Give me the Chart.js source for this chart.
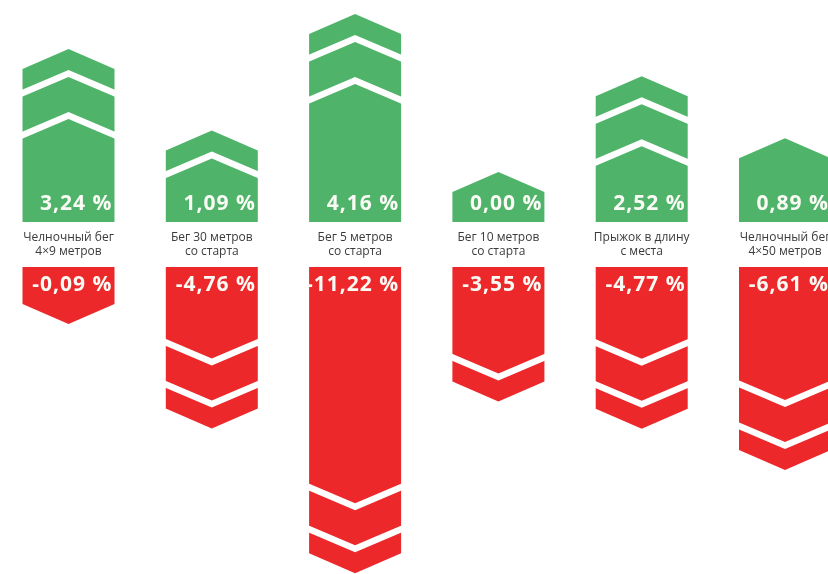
<!DOCTYPE html>
<html lang="ru">
<head>
<meta charset="utf-8">
<title>Прирост и снижение результатов</title>
<script src="https://cdn.jsdelivr.net/npm/chart.js@4/dist/chart.umd.min.js"></script>
<style>
  html, body { margin: 0; padding: 0; background: #fff; }
  #wrap { width: 828px; height: 574px; position: relative; }
</style>
</head>
<body>
<div id="wrap"><canvas id="chart"></canvas></div>
<script>
// ==== Data ====
const categories = [
  ["Челночный бег", "4×9 метров"],
  ["Бег 30 метров", "со старта"],
  ["Бег 5 метров", "со старта"],
  ["Бег 10 метров", "со старта"],
  ["Прыжок в длину", "с места"],
  ["Челночный бег", "4×50 метров"]
];
const gains = [3.24, 1.09, 4.16, 0.00, 2.52, 0.89];
const losses = [-0.09, -4.76, -11.22, -3.55, -4.77, -6.61];

// ==== Layout ====
const W = 828, H = 574;
const COL_FIRST = 68.5, COL_STEP = 143.3;   // centre of first column, distance between columns
const UP_BASE = 222, UP_PX = 38;            // zero line of the green arrows, px per unit
const DOWN_BASE = 267, DOWN_PX = 22.4;      // zero line of the red arrows, px per unit
const ARROW_W = 92;
const RISE = 20;                            // height of the chevron point
const PAD_UP = 30, PAD_DOWN = 35;           // room for the value text inside the arrow
const TIP_BAND = 21, GAP = 7, BAND = 35;    // chevron stripes
const GREEN = "#4fb46a", RED = "#ec282b";

const fmt = (v) => v.toFixed(2).replace(".", ",") + " %";

// ==== Arrow shape ====
function drawArrow(ctx, x, y, base, w, up, color) {
  const s = up ? -1 : 1;
  const L = x - w / 2, R = x + w / 2;
  const shoulder = y + s * (up ? PAD_UP : PAD_DOWN);
  const tip = shoulder + s * RISE;

  ctx.fillStyle = color;
  ctx.beginPath();
  ctx.moveTo(L, base);
  ctx.lineTo(L, shoulder);
  ctx.lineTo(x, tip);
  ctx.lineTo(R, shoulder);
  ctx.lineTo(R, base);
  ctx.closePath();
  ctx.fill();

  // white chevrons near the tip, more of them on longer arrows
  const len = Math.abs(tip - base);
  const n = len >= 140 ? 2 : len >= 88 ? 1 : 0;
  ctx.fillStyle = "#fff";
  for (let k = 0; k < n; k++) {
    const a = tip - s * (TIP_BAND + k * (GAP + BAND));
    const b = a - s * GAP;
    ctx.beginPath();
    ctx.moveTo(L - 1, a - s * RISE);
    ctx.lineTo(x, a);
    ctx.lineTo(R + 1, a - s * RISE);
    ctx.lineTo(R + 1, b - s * RISE);
    ctx.lineTo(x, b);
    ctx.lineTo(L - 1, b - s * RISE);
    ctx.closePath();
    ctx.fill();
  }
}

const arrowPlugin = {
  id: "arrows",
  beforeDatasetDraw(chart, args) {
    const ds = chart.data.datasets[args.index];
    const ctx = chart.ctx;
    const up = ds.direction === "up";
    ctx.save();
    args.meta.data.forEach((bar, i) => {
      const { x, y, base, width } = bar.getProps(["x", "y", "base", "width"], true);
      drawArrow(ctx, x, y, base, width, up, ds.backgroundColor);
      ctx.fillStyle = "#fbfbf6";
      ctx.font = "bold 21px 'Open Sans', sans-serif";
      ctx.letterSpacing = "1px";
      ctx.textAlign = "right";
      ctx.textBaseline = "alphabetic";
      ctx.fillText(fmt(ds.data[i].y), x + width / 2 - 2, up ? base - 12 : base + 24);
    });
    ctx.restore();
    return false;
  },
  afterDatasetsDraw(chart) {
    const ctx = chart.ctx;
    const xs = chart.scales.x;
    const mid = (UP_BASE + DOWN_BASE) / 2;
    ctx.save();
    ctx.fillStyle = "#3a3a3a";
    ctx.font = "12px 'Open Sans', sans-serif";
    ctx.textAlign = "center";
    ctx.textBaseline = "middle";
    categories.forEach((lines, i) => {
      const x = xs.getPixelForValue(i);
      ctx.fillText(lines[0], x, mid - 6.5);
      ctx.fillText(lines[1], x, mid + 7);
    });
    ctx.restore();
  }
};

// ==== Chart ====
new Chart(document.getElementById("chart"), {
  type: "bar",
  data: {
    datasets: [
      {
        label: "Прирост",
        direction: "up",
        data: gains.map((v, i) => ({ x: i, y: v })),
        backgroundColor: GREEN,
        yAxisID: "yUp",
        barThickness: ARROW_W,
        grouped: false
      },
      {
        label: "Снижение",
        direction: "down",
        data: losses.map((v, i) => ({ x: i, y: v })),
        backgroundColor: RED,
        yAxisID: "yDown",
        barThickness: ARROW_W,
        grouped: false
      }
    ]
  },
  options: {
    responsive: true,
    maintainAspectRatio: false,
    animation: false,
    layout: { padding: 0 },
    plugins: {
      legend: { display: false },
      tooltip: { enabled: false }
    },
    scales: {
      x: {
        type: "linear",
        display: false,
        offset: false,
        min: -COL_FIRST / COL_STEP,
        max: (W - COL_FIRST) / COL_STEP
      },
      yUp: {
        type: "linear",
        display: false,
        min: -(H - UP_BASE) / UP_PX,
        max: UP_BASE / UP_PX
      },
      yDown: {
        type: "linear",
        display: false,
        min: -(H - DOWN_BASE) / DOWN_PX,
        max: DOWN_BASE / DOWN_PX
      }
    }
  },
  plugins: [arrowPlugin]
});
</script>
</body>
</html>
